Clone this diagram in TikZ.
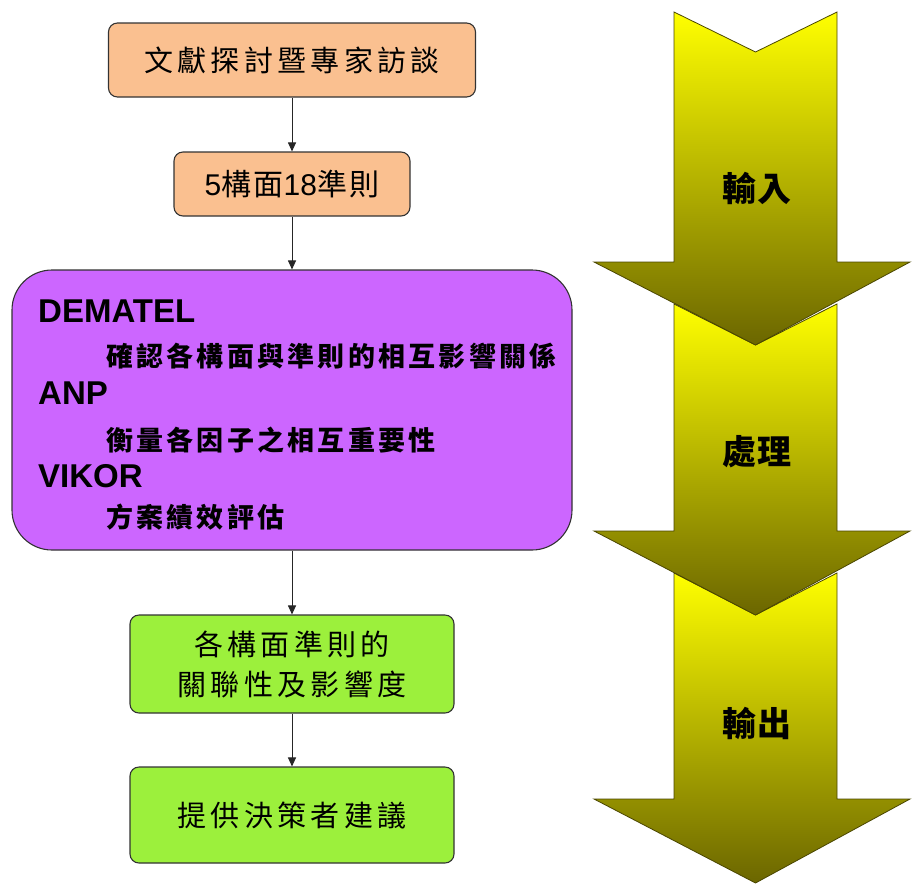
\documentclass[tikz,border=0pt]{standalone}
\usepackage{fontspec}
\setmainfont{Liberation Sans}
\newfontfamily\cjka[LetterSpace=15]{Noto Sans CJK TC}
\newfontfamily\cjkb[LetterSpace=8]{Noto Sans CJK TC}
\newfontfamily\cjkc[LetterSpace=12]{Noto Sans CJK TC}
\newfontfamily\cjkd[LetterSpace=4]{Noto Sans CJK TC}
\usetikzlibrary{arrows.meta}
\definecolor{peach}{HTML}{FAC090}
\definecolor{violetbox}{HTML}{CC66FF}
\definecolor{limebox}{HTML}{9CF03C}
\definecolor{arrowtop}{HTML}{FFFF00}
\definecolor{arrowbot}{HTML}{6B6600}
\definecolor{arrowline}{HTML}{4A4600}
\tikzset{
  boxbase/.style={draw=black!80, line width=1.1pt, rounded corners=9pt, inner sep=0pt},
  peachbox/.style={boxbase, fill=peach},
  limebox/.style={boxbase, fill=limebox, align=center},
  violet/.style={boxbase, fill=violetbox, rounded corners=40pt},
  conn/.style={draw=black!85, line width=1pt, -{Triangle[length=9pt,width=8pt]}},
  bigarrow/.style={top color=arrowtop, bottom color=arrowbot, draw=arrowline, line width=0.8pt},
  latinlbl/.style={anchor=base west, inner sep=0pt, font=\fontsize{33}{36}\selectfont\bfseries},
  cjklbl/.style={anchor=west, inner sep=0pt, font=\fontsize{27}{30}\selectfont\cjkc\bfseries},
  arrowlbl/.style={inner sep=0pt, font=\fontsize{34}{36}\selectfont\cjkd\bfseries}
}
\begin{document}
\begin{tikzpicture}[x=1pt,y=-1pt]
\useasboundingbox (0,0) rectangle (912,884);
% big chevron arrows (bottom first so upper heads overlay)
\shade[bigarrow] (674,573) -- (755.5,615) -- (837,573) -- (837,799) -- (910,799) -- (755.5,883) -- (594,799) -- (674,799) -- cycle;
\shade[bigarrow] (674,304) -- (755.5,345) -- (837,304) -- (837,531) -- (910,531) -- (755.5,615) -- (594,531) -- (674,531) -- cycle;
\shade[bigarrow] (674,12) -- (755.5,52) -- (837,12) -- (837,262) -- (910,262) -- (755.5,345) -- (594,262) -- (674,262) -- cycle;
\node[arrowlbl] (in) at (757,188) {輸入};
\node[arrowlbl] (proc) at (757,452) {處理};
\node[arrowlbl] (out) at (757,723) {輸出};
% flow boxes
\node[peachbox, minimum width=367pt, minimum height=74pt, font=\fontsize{29}{30}\selectfont\cjka] (n1) at (292,60) {文獻探討暨專家訪談};
\node[peachbox, minimum width=236pt, minimum height=64pt, font=\fontsize{30}{32}\selectfont] (n2) at (292,184) {5{\cjkb 構面}18{\cjkb 準則}};
\node[violet, minimum width=560pt, minimum height=280pt] (n3) at (292,410) {};
\node[latinlbl] (dem) at (38,322) {DEMATEL};
\node[cjklbl] (demt) at (106,356) {確認各構面與準則的相互影響關係};
\node[latinlbl] (anp) at (38,404) {ANP};
\node[cjklbl] (anpt) at (106,440) {衡量各因子之相互重要性};
\node[latinlbl] (vik) at (38,487) {VIKOR};
\node[cjklbl] (vikt) at (106,517) {方案績效評估};
\node[limebox, minimum width=324pt, minimum height=98pt, font=\fontsize{29}{40}\selectfont\cjka] (n4) at (292,664) {各構面準則的\\關聯性及影響度};
\node[limebox, minimum width=324pt, minimum height=96pt, font=\fontsize{29}{30}\selectfont\cjka] (n5) at (292,815) {提供決策者建議};
% connectors
\draw[conn] (n1) -- (n2);
\draw[conn] (n2) -- (n3);
\draw[conn] (n3) -- (n4);
\draw[conn] (n4) -- (n5);
\end{tikzpicture}
\end{document}
